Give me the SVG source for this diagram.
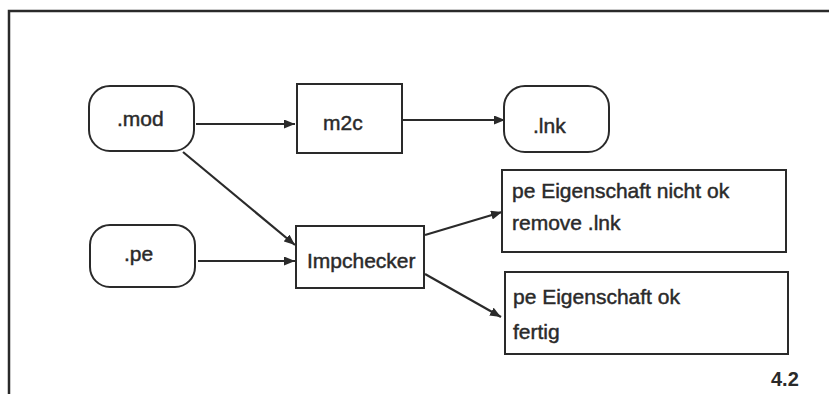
<svg xmlns="http://www.w3.org/2000/svg" width="829" height="394" viewBox="0 0 829 394">
<defs>
<style>
.box{fill:#fff;stroke:#2a2a2a;stroke-width:2}
.frame{fill:none;stroke:#2a2a2a;stroke-width:2.5}
.lbl{font-family:"Liberation Sans",Arial,sans-serif;font-size:21px;fill:#2a2a2a;stroke:#2a2a2a;stroke-width:0.45}
.num{font-family:"Liberation Sans",Arial,sans-serif;font-size:20px;font-weight:bold;fill:#2a2a2a}
.conn{fill:none;stroke:#2a2a2a;stroke-width:2.2}
</style>
<marker id="ah" viewBox="0 0 11 9" refX="11" refY="4.5" markerWidth="11" markerHeight="9" markerUnits="userSpaceOnUse" orient="auto">
<path d="M0,0 L11,4.5 L0,9 Z" fill="#2a2a2a"/>
</marker>
</defs>
<rect width="829" height="394" fill="#fff"/>
<path class="frame" d="M9,394 L9,11 L829,11"/>
<g id="connectors">
<line class="conn" x1="196" y1="124" x2="295" y2="124" marker-end="url(#ah)"/>
<line class="conn" x1="402" y1="120" x2="505" y2="120" marker-end="url(#ah)"/>
<line class="conn" x1="183" y1="152" x2="295" y2="245" marker-end="url(#ah)"/>
<line class="conn" x1="198" y1="261" x2="295" y2="261" marker-end="url(#ah)"/>
<line class="conn" x1="425" y1="235" x2="502" y2="212" marker-end="url(#ah)"/>
<line class="conn" x1="425" y1="274" x2="501" y2="317" marker-end="url(#ah)"/>
</g>
<g id="mod">
<rect class="box" x="89" y="86" width="105" height="65" rx="21" ry="21"/>
<text class="lbl" x="117" y="126">.mod</text>
</g>
<g id="m2c">
<rect class="box" x="297" y="84" width="105" height="69"/>
<text class="lbl" x="323" y="130">m2c</text>
</g>
<g id="lnk">
<rect class="box" x="504" y="86" width="105" height="66" rx="21" ry="21"/>
<text class="lbl" x="533" y="133">.lnk</text>
</g>
<g id="pe">
<rect class="box" x="90" y="225" width="105" height="62" rx="20" ry="20"/>
<text class="lbl" x="124" y="261">.pe</text>
</g>
<g id="impchecker">
<rect class="box" x="296" y="226" width="128" height="62"/>
<text class="lbl" x="307" y="268">Impchecker</text>
</g>
<g id="nichtok">
<rect class="box" x="502" y="170" width="284" height="82"/>
<text class="lbl" x="512" y="198">pe Eigenschaft nicht ok</text>
<text class="lbl" x="512" y="230">remove .lnk</text>
</g>
<g id="ok">
<rect class="box" x="505" y="272" width="283" height="82"/>
<text class="lbl" x="513" y="304">pe Eigenschaft ok</text>
<text class="lbl" x="513" y="339">fertig</text>
</g>
<text class="num" x="771" y="386">4.2</text>
</svg>
